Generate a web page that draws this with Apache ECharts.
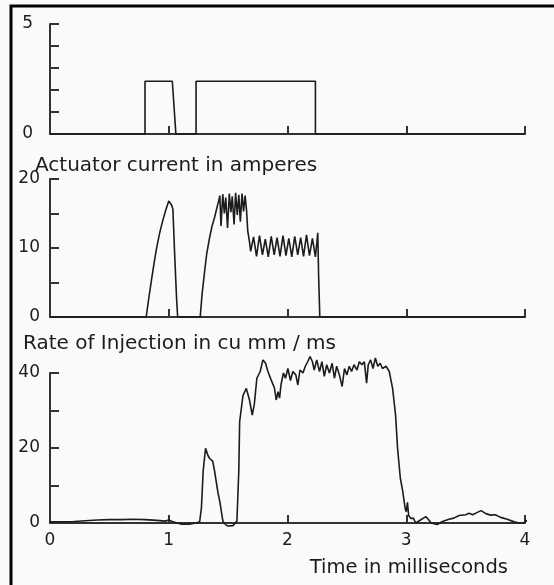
<!DOCTYPE html>
<html>
<head>
<meta charset="utf-8">
<script src="https://cdn.jsdelivr.net/npm/echarts@6/dist/echarts.min.js"></script>
<style>
html,body{margin:0;padding:0;background:#fcf9fb;}
#c{width:554px;height:585px;}
</style>
</head>
<body>
<div id="c"></div>
<script>
// ---- data (time in ms) ----
const signalTime  = [0, 0.80, 0.80, 1.03, 1.06, 1.23, 1.23, 2.235, 2.235, 4];
const signalValue = [0, 0,    2.4,  2.4,  0,    0,    2.4,  2.4,   0,     0];

const currentTime = [0, 0.81, 0.83, 0.855, 0.88, 0.90, 0.925, 0.95, 0.975, 1.00, 1.01, 1.025, 1.035, 1.05, 1.065, 1.075,
  1.265, 1.28, 1.30, 1.32, 1.345, 1.365, 1.387, 1.405, 1.42,
  1.43, 1.44, 1.455, 1.468, 1.48, 1.495, 1.51, 1.523, 1.535, 1.55, 1.563, 1.577, 1.59, 1.603, 1.617, 1.63, 1.643, 1.655, 1.665,
  1.68, 1.69, 1.714, 1.739, 1.764, 1.789, 1.813, 1.838, 1.863, 1.888, 1.912, 1.937, 1.962, 1.987, 2.011, 2.036, 2.061, 2.086,
  2.111, 2.135, 2.160, 2.185, 2.210, 2.235, 2.255, 2.262, 2.272, 4.0];
const currentValue = [0, 0, 2.5, 5.4, 8.2, 10.2, 12.3, 14.0, 15.5, 16.8, 17.0, 16.2, 15.6, 9, 3, 0,
  0, 3.2, 6.3, 9.2, 11.6, 13.2, 14.5, 15.8, 16.8,
  17.6, 13.2, 17.8, 15.0, 17.3, 12.9, 17.9, 15.2, 17.5, 13.4, 18.0, 14.8, 17.7, 13.8, 17.9, 15.3, 17.6, 15.5, 12.5,
  10.9, 9.5, 11.6, 8.8, 11.8, 9.0, 11.3, 8.7, 11.7, 9.0, 11.5, 8.8, 11.8, 8.9, 11.4, 8.7, 11.7, 9.0,
  11.5, 8.8, 11.9, 8.9, 11.4, 8.7, 12.2, 6, 0, 0];

const rateTime = [0.00, 0.10, 0.20, 0.30, 0.40, 0.50, 0.60, 0.70, 0.80, 0.90, 0.97, 1.00, 1.03, 1.07, 1.11, 1.17, 1.23, 1.26,
  1.275, 1.29, 1.31, 1.33, 1.345, 1.37, 1.385, 1.40, 1.415, 1.43, 1.456, 1.48, 1.50, 1.54, 1.574,
  1.59, 1.597, 1.625, 1.653, 1.68, 1.703, 1.72, 1.742, 1.77, 1.793, 1.815, 1.835, 1.863, 1.89, 1.905, 1.92, 1.933, 1.946,
  1.966, 1.983, 2.003, 2.025, 2.045, 2.07, 2.087, 2.105, 2.13, 2.15, 2.17, 2.19, 2.21, 2.225, 2.246, 2.27, 2.29, 2.31,
  2.33, 2.353, 2.376, 2.395, 2.414, 2.437, 2.46, 2.48, 2.50, 2.52, 2.54, 2.56, 2.585, 2.605, 2.627, 2.647, 2.666, 2.68,
  2.70, 2.72, 2.74, 2.76, 2.78, 2.80, 2.83, 2.857, 2.885, 2.91, 2.927, 2.95, 2.97, 2.99, 3.00, 3.01, 3.02, 3.04, 3.06,
  3.08, 3.12, 3.165, 3.19, 3.21, 3.26, 3.305, 3.36, 3.40, 3.445, 3.50, 3.53, 3.56, 3.59, 3.63, 3.67, 3.71, 3.75, 3.795,
  3.85, 3.91, 3.95, 3.99, 4.03, 4.08];
const rateValue = [0.3, 0.3, 0.4, 0.6, 0.8, 0.9, 0.9, 1.0, 0.9, 0.7, 0.5, 0.8, 0.4, 0.0, -0.3, -0.3, 0.0, 0.3,
  4, 14, 19.9, 18, 17.2, 16.5, 14, 11, 8, 5.7, 0.5, -0.5, -0.8, -0.7, 0.5,
  14, 27, 34, 35.9, 32.8, 28.8, 31.5, 38.6, 40.4, 43.5, 42.6, 40.4, 38.1, 36, 32.8, 35, 33.3, 37,
  40, 38.6, 41.2, 38, 40.4, 39.5, 36.8, 40.8, 40, 41.8, 43, 44.4, 43, 40.8, 43.5, 40.4, 43, 39.1,
  42.2, 40, 42.6, 38.6, 41.8, 39.5, 36.4, 41.2, 39.5, 41.8, 40.4, 42.2, 40.8, 43, 42.2, 43, 37.3, 42.2,
  43.5, 41.2, 44, 41.8, 42.6, 41.2, 41.8, 40.4, 35.9, 28.8, 19.9, 12, 8.5, 4, 3, 5.5, 2, 1.2, 1.3,
  0, 0.8, 1.7, 0.8, 0, -0.4, 0.4, 1.0, 1.3, 2.0, 2.2, 2.6, 2.2, 2.7, 3.3, 2.5, 2.1, 2.2, 1.5,
  1.0, 0.3, 0, 0, 1.0, 1.6];

const panelTitles = ['Actuator current in amperes', 'Rate of Injection in cu mm / ms'];
const xTitle = 'Time in milliseconds';
const topLabels = [0, 5];
const midLabels = [0, 10, 20];
const botLabels = [0, 20, 40];

// ---- chart ----
const FONT = 'DejaVu Sans';
const INK = '#1c1c1c';
const AX = '#333';
function pairs(t, v) { return t.map((x, i) => [x, v[i]]); }

function xAx(grid, showLabels) {
  return {
    type: 'value', gridIndex: grid, min: 0, max: 4, interval: 1,
    axisLine: { show: true, onZero: false, lineStyle: { color: AX, width: 2 } },
    axisTick: { show: true, inside: true, length: 8, lineStyle: { color: AX, width: 2 } },
    splitLine: { show: false },
    axisLabel: { show: showLabels, color: INK, fontFamily: FONT, fontSize: 17, margin: 9 }
  };
}
function yAx(grid, max, interval, labels, margin) {
  return {
    type: 'value', gridIndex: grid, min: 0, max: max, interval: interval,
    axisLine: { show: true, onZero: false, lineStyle: { color: AX, width: 2 } },
    axisTick: { show: true, inside: true, length: 9, lineStyle: { color: AX, width: 2 } },
    splitLine: { show: false },
    axisLabel: { color: INK, fontFamily: FONT, fontSize: 17, margin: margin,
      formatter: v => labels.indexOf(v) >= 0 ? String(v) : '' }
  };
}
function ser(idx, t, v) {
  return { type: 'line', xAxisIndex: idx, yAxisIndex: idx, data: pairs(t, v), showSymbol: false,
    clip: false, lineStyle: { color: INK, width: 1.6 }, animation: false };
}

const chart = echarts.init(document.getElementById('c'), null, { renderer: 'canvas' });
chart.setOption({
  backgroundColor: '#fcf9fb',
  animation: false,
  grid: [
    { left: 50, top: 24, width: 475, height: 110 },
    { left: 50, top: 179, width: 475, height: 138 },
    { left: 50, top: 373, width: 475, height: 150 }
  ],
  xAxis: [xAx(0, false), xAx(1, false), xAx(2, true)],
  yAxis: [yAx(0, 5, 1, topLabels, 17), yAx(1, 20, 5, midLabels, 10), yAx(2, 40, 10, botLabels, 10)],
  series: [ser(0, signalTime, signalValue), ser(1, currentTime, currentValue), ser(2, rateTime, rateValue)],
  graphic: [
    { type: 'rect', silent: true, shape: { x: 11, y: 6, width: 700, height: 700 },
      style: { fill: 'none', stroke: '#000', lineWidth: 3 } },
    { type: 'text', x: 35, y: 165.5, style: { text: panelTitles[0], font: '20px "DejaVu Sans"', fill: INK, textAlign: 'left', textVerticalAlign: 'middle', verticalAlign: 'middle' } },
    { type: 'text', x: 23, y: 343.5, style: { text: panelTitles[1], font: '20px "DejaVu Sans"', fill: INK, textAlign: 'left', textVerticalAlign: 'middle', verticalAlign: 'middle' } },
    { type: 'text', x: 508, y: 568, style: { text: xTitle, font: '19.5px "DejaVu Sans"', fill: INK, textAlign: 'right', textVerticalAlign: 'middle', verticalAlign: 'middle' } }
  ]
});
</script>
</body>
</html>
